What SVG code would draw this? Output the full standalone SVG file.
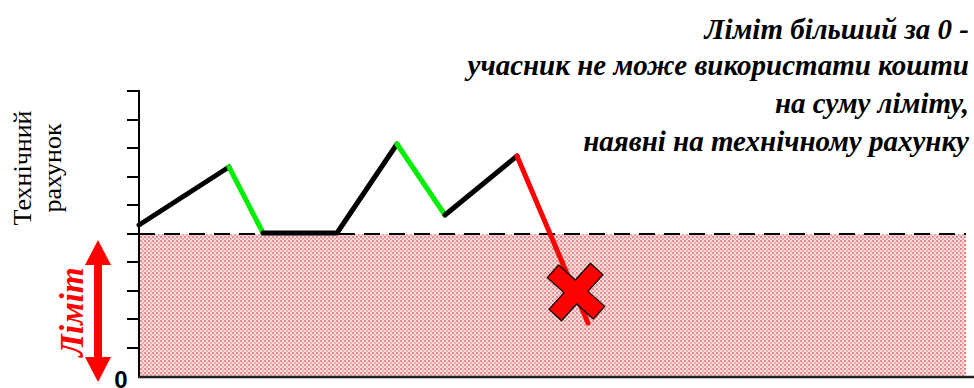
<svg xmlns="http://www.w3.org/2000/svg" width="974" height="388" viewBox="0 0 974 388">
<style>
.seg{fill:none;stroke-width:5;stroke-linecap:round;stroke-linejoin:round}
.tick{stroke:#000;stroke-width:2}
</style>
<defs>
<pattern id="dots" width="4" height="4" patternUnits="userSpaceOnUse">
<rect width="4" height="4" fill="#f8dede"/>
<rect x="0" y="0" width="2" height="2" fill="#e88a8a"/>
<rect x="2" y="2" width="2" height="2" fill="#eeaaaa"/>
</pattern>
</defs>
<rect x="139" y="234" width="827" height="143" fill="url(#dots)"/>
<line x1="139" y1="234" x2="966" y2="234" stroke="#000" stroke-width="2" stroke-dasharray="16 9"/>
<line x1="139" y1="90" x2="139" y2="378" stroke="#000" stroke-width="2"/>
<line x1="138" y1="377" x2="974" y2="377" stroke="#222" stroke-width="2.5"/>
<g class="tick">
<line x1="127" y1="91" x2="139" y2="91"/>
<line x1="127" y1="120" x2="139" y2="120"/>
<line x1="127" y1="148" x2="139" y2="148"/>
<line x1="127" y1="177" x2="139" y2="177"/>
<line x1="127" y1="205" x2="139" y2="205"/>
<line x1="127" y1="234" x2="139" y2="234"/>
<line x1="127" y1="262" x2="139" y2="262"/>
<line x1="127" y1="291" x2="139" y2="291"/>
<line x1="127" y1="319" x2="139" y2="319"/>
<line x1="127" y1="348" x2="139" y2="348"/>
</g>
<text x="121" y="388" font-family="'Liberation Sans'" font-weight="bold" font-size="24" text-anchor="middle">0</text>
<text x="31" y="168" font-family="'Liberation Serif'" font-size="26" text-anchor="middle" transform="rotate(-90 31 168)">Технічний</text>
<text x="61" y="168" font-family="'Liberation Serif'" font-size="26" text-anchor="middle" transform="rotate(-90 61 168)">рахунок</text>
<g id="connectors">
<polyline class="seg" stroke="#000" points="139,225 229,167"/>
<polyline class="seg" stroke="#00ee00" points="229,167 263,233"/>
<polyline class="seg" stroke="#000" points="263,233 337,233 397,144"/>
<polyline class="seg" stroke="#00ee00" points="397,144 445,215"/>
<polyline class="seg" stroke="#000" points="445,215 517,156"/>
<polyline class="seg" stroke="#ff0000" points="517,156 588,323"/>
</g>
<polygon transform="translate(576,292) rotate(42)" fill="#ff0000" stroke="#000" stroke-width="1.2" stroke-linejoin="round" points="8.5,-31 8.5,-8.5 31,-8.5 31,8.5 8.5,8.5 8.5,31 -8.5,31 -8.5,8.5 -31,8.5 -31,-8.5 -8.5,-8.5 -8.5,-31"/>
<polygon fill="#ff0000" points="98,240 111,265 102,265 102,357 111,357 98,382 85,357 94,357 94,265 85,265"/>
<text x="83" y="312" transform="rotate(-90 83 312)" font-family="'Liberation Serif'" font-weight="bold" font-style="italic" font-size="33" fill="#ff0000" text-anchor="middle">Ліміт</text>
<text font-family="'Liberation Serif'" font-weight="bold" font-style="italic" font-size="29" text-anchor="end" x="969" y="39">Ліміт більший за 0 -</text>
<text font-family="'Liberation Serif'" font-weight="bold" font-style="italic" font-size="29" text-anchor="end" x="969" y="75">учасник не може використати кошти</text>
<text font-family="'Liberation Serif'" font-weight="bold" font-style="italic" font-size="29" text-anchor="end" x="969" y="113">на суму ліміту,</text>
<text font-family="'Liberation Serif'" font-weight="bold" font-style="italic" font-size="29" text-anchor="end" x="969" y="151">наявні на технічному рахунку</text>
</svg>
